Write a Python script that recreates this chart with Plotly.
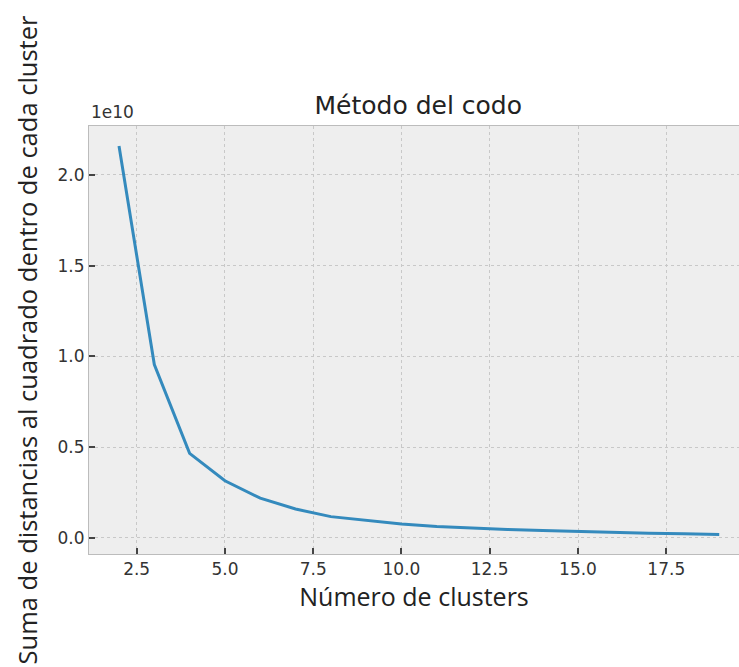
import plotly.graph_objects as go

# Number of clusters
n_clusters = list(range(2, 20))
# Within-cluster sum of squares (units of 1e10)
inercia_e10 = [2.16, 0.955, 0.465, 0.314, 0.218, 0.158, 0.116, 0.094, 0.076,
               0.062, 0.052, 0.045, 0.039, 0.033, 0.029, 0.025, 0.021, 0.018]

x_ticks = [2.5, 5.0, 7.5, 10.0, 12.5, 15.0, 17.5]
x_ticktext = ["2.5", "5.0", "7.5", "10.0", "12.5", "15.0", "17.5"]
y_ticks = [0.0, 0.5, 1.0, 1.5, 2.0]
y_ticktext = ["0.0", "0.5", "1.0", "1.5", "2.0"]

fig = go.Figure()
fig.add_trace(go.Scatter(
    x=n_clusters, y=inercia_e10, mode="lines",
    line=dict(color="#348ABD", width=3),
    hoverinfo="skip", showlegend=False,
))

tick_font = dict(family="DejaVu Sans", size=17, color="#333333")
xlabel_font = dict(family="Open Sans", size=25, color="#222222")
ylabel_font = dict(family="Open Sans", size=25.5, color="#222222")

fig.update_layout(
    width=739, height=667,
    margin=dict(l=89, r=0, t=126, b=113),
    paper_bgcolor="white",
    plot_bgcolor="#eeeeee",
    title=dict(text="Método del codo", x=0.566, xanchor="center",
               y=1 - 105 / 667, yanchor="middle",
               font=dict(family="DejaVu Sans", size=25, color="#222222")),
    xaxis=dict(
        range=[1.15, 19.56], tickvals=x_ticks, ticktext=x_ticktext,
        ticks="inside", ticklen=6, tickwidth=1.5, tickcolor="#444444",
        tickfont=tick_font, showgrid=True, gridcolor="#c8c8c8", gridwidth=1,
        griddash="dot", zeroline=False, showline=True, linecolor="#bcbcbc",
        linewidth=1, mirror=True,
        title=dict(text="Número de clusters", font=xlabel_font, standoff=6),
    ),
    yaxis=dict(
        range=[-0.09, 2.27], tickvals=y_ticks, ticktext=y_ticktext,
        ticks="inside", ticklen=6, tickwidth=1.5, tickcolor="#444444",
        tickfont=tick_font, showgrid=True, gridcolor="#c8c8c8", gridwidth=1,
        griddash="dot", zeroline=False, showline=True, linecolor="#bcbcbc",
        linewidth=1, mirror=False,
        title=dict(text="Suma de distancias al cuadrado dentro de cada cluster",
                   font=ylabel_font, standoff=12),
    ),
    annotations=[dict(
        text="1e10", xref="paper", yref="paper", x=0, y=1, xanchor="left",
        yanchor="bottom", yshift=2, showarrow=False,
        font=dict(family="DejaVu Sans", size=17, color="#333333"),
    )],
)

fig.write_html("out.html")
